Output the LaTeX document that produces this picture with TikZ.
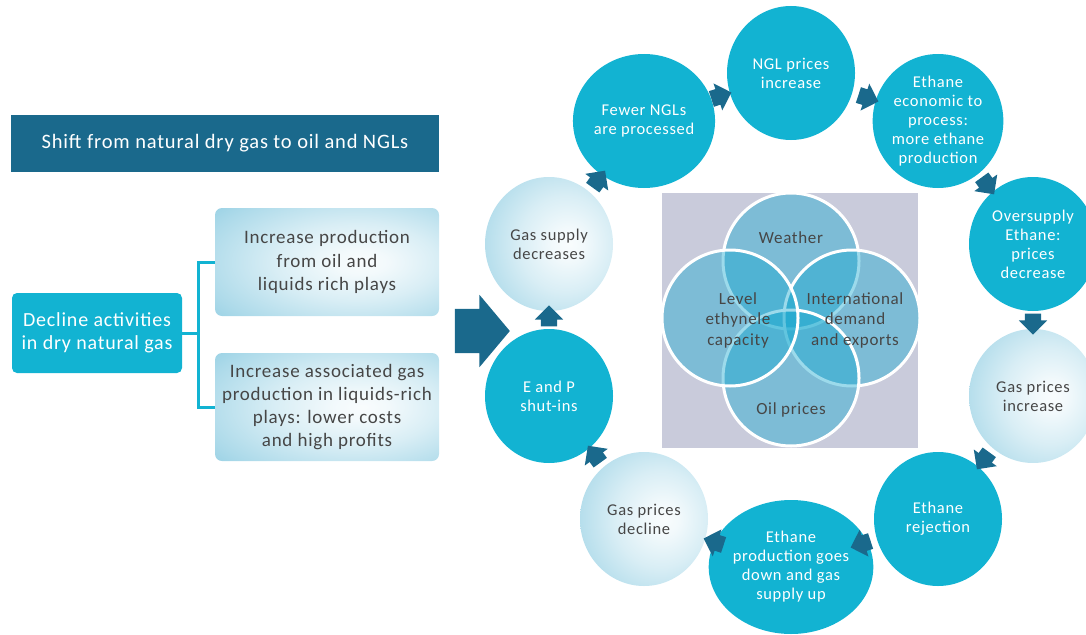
\documentclass[tikz,border=0pt]{standalone}
\usepackage{fontspec}
\setmainfont[LetterSpace=4]{Carlito}
\usepackage{tikz}
\usetikzlibrary{positioning,shapes.geometric,shapes.arrows,calc}
\definecolor{headcol}{RGB}{26,105,140}
\definecolor{cyancol}{RGB}{18,179,210}
\definecolor{palecol}{RGB}{128,198,222}
\definecolor{venncol}{RGB}{20,168,208}
\definecolor{panelcol}{RGB}{201,203,219}
\definecolor{txtcol}{RGB}{70,70,70}

% whitish core fading out to pale blue at the rim
\pgfdeclareradialshading{softglow}{\pgfpoint{8bp}{0bp}}{%
  color(0bp)=(palecol!5!white); color(6bp)=(palecol!10!white);
  color(18bp)=(palecol!30!white); color(34bp)=(palecol!65!white);
  color(48bp)=(palecol); color(100bp)=(palecol)}

\begin{document}
\begin{tikzpicture}[x=1pt, y=-1pt,
  headbox/.style={fill=headcol, text=white, minimum width=428, minimum height=57,
                  inner sep=0, font=\fontsize{20.5}{24}\selectfont},
  rootbox/.style={fill=cyancol, rounded corners=5pt, text=white, minimum width=170,
                  minimum height=80, align=center, font=\fontsize{20}{22.5}\selectfont},
  leafbox/.style={shade, shading=softglow, rounded corners=7pt, text=txtcol,
                  minimum width=224, minimum height=108, align=center,
                  font=\fontsize{19}{23.3}\selectfont},
  link/.style={draw=cyancol, line width=3pt},
  cyc/.style={ellipse, minimum width=128, minimum height=134, inner sep=0,
              align=center, font=\fontsize{16.5}{19}\selectfont},
  dark/.style={cyc, fill=cyancol, text=white},
  pale/.style={cyc, shade, shading=softglow, text=txtcol},
  turnarrow/.style={single arrow, fill=headcol, minimum height=21, inner xsep=0,
                    inner ysep=8, single arrow head extend=6},
  pushshape/.style={single arrow, fill=headcol, minimum height=55, inner xsep=0,
                    inner ysep=22, single arrow head extend=14, single arrow tip angle=100},
  vennring/.style={circle, minimum size=136, inner sep=0, fill=venncol,
                   fill opacity=0.42, draw=white, line width=3pt},
  vlab/.style={text=txtcol, align=center, font=\fontsize{17}{20.5}\selectfont}
]
\useasboundingbox (0,0) rectangle (1086,634);

% left hand side
\node[headbox] (shift) at (225,143) {Shift from natural dry gas to oil and NGLs};
\node[rootbox] (decline) at (97,333) {Decline activities\\in dry natural gas};
\node[leafbox] (incprod) at (327,262) {Increase production\\from oil and\\liquids rich plays};
\node[leafbox] (incassoc) at (327,407)
    {Increase associated gas\\production in liquids-rich\\plays: lower costs\\and high profits};

\draw[link] (decline.east) -- ++(16,0) coordinate (fork) |- (incprod.west);
\draw[link] (fork) |- (incassoc.west);

\node[pushshape] (push) at (473,331) {};

% drivers in the middle
\node[fill=panelcol, minimum width=256, minimum height=255, inner sep=0] (panel) at (790,320.5) {};
\node[vennring] (weather) at (791,261) {};
\node[vennring] (intl)    at (852,318) {};
\node[vennring] (oil)     at (791,378) {};
\node[vennring] (level)   at (730,318) {};

\node[vlab] (wlab) at (791,238) {Weather};
\node[vlab] (llab) at (738,320) {Level\\ethynele\\capacity};
\node[vlab] (ilab) at (855,320) {International\\demand\\and exports};
\node[vlab] (olab) at (791,410) {Oil prices};

% the cycle
\node[dark] (ngl)     at (791,73)   {NGL prices\\increase};
\node[dark] (ethane)  at (938,121)  {Ethane\\economic to\\process:\\more ethane\\production};
\node[dark] (oversup) at (1033,244) {Oversupply\\Ethane:\\prices\\decrease};
\node[pale] (gasinc)  at (1033,396) {Gas prices\\increase};
\node[dark] (reject)  at (938,519)  {Ethane\\rejection};
\node[dark] (prodown) at (791,567)  {Ethane\\production goes\\down and gas\\supply up};
\node[pale] (gasdec)  at (644,519)  {Gas prices\\decline};
\node[dark] (eandp)   at (549,396)  {E and P\\shut-ins};
\node[pale] (gassup)  at (549,244)  {Gas supply\\decreases};
\node[dark] (fewer)   at (644,121)  {Fewer NGLs\\are processed};

\foreach \a/\b/\r in {gassup/fewer/54, fewer/ngl/18, ngl/ethane/-18, ethane/oversup/-54,
                      oversup/gasinc/-90, gasinc/reject/-126, reject/prodown/-162,
                      prodown/gasdec/162, gasdec/eandp/126, eandp/gassup/90}
  \node[turnarrow, rotate=\r] (to-\b) at ($(\a)!0.5!(\b)$) {};

\end{tikzpicture}
\end{document}
